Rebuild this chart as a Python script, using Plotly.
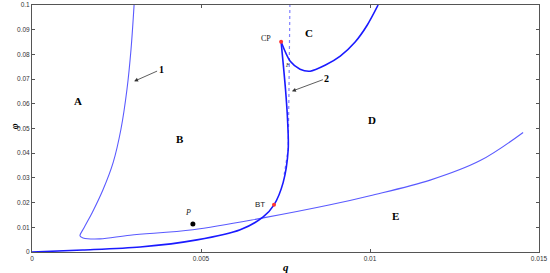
import plotly.graph_objects as go

# curve 1 (thin blue)
c1_q = [0.00302, 0.00293, 0.00281, 0.00263, 0.00240, 0.00210, 0.00178, 0.00154,
        0.00142, 0.00151, 0.00201, 0.00290, 0.00476, 0.00684, 0.00882, 0.01000,
        0.01178, 0.01326, 0.01453]
c1_v = [0.1000, 0.0821, 0.0659, 0.0496, 0.0362, 0.0252, 0.0159, 0.0098,
        0.0065, 0.0057, 0.0053, 0.0068, 0.0090, 0.0138, 0.0191, 0.0228,
        0.0291, 0.0370, 0.0484]

# curve 2, lower branch: origin -> BT -> CP
c2a_q = [0.0, 0.00150, 0.00320, 0.00488, 0.00616, 0.00684, 0.00716, 0.00743, 0.00758,
         0.00756, 0.00750, 0.00737]
c2a_v = [0.0, 0.0008, 0.0020, 0.0049, 0.0090, 0.0142, 0.0191, 0.0281, 0.0415,
         0.0537, 0.0659, 0.0851]
# curve 2, upper branch: CP -> top
c2b_q = [0.00737, 0.00764, 0.00793, 0.00823, 0.00867, 0.00912, 0.00956, 0.00992, 0.01024]
c2b_v = [0.0851, 0.0772, 0.0740, 0.0732, 0.0756, 0.0793, 0.0850, 0.0919, 0.1000]

# dashed near-vertical branch
c3_q = [0.00746, 0.00758, 0.00760, 0.00763]
c3_v = [0.0313, 0.0415, 0.0619, 0.1000]

special_q = [0.00716, 0.00737]
special_v = [0.0191, 0.0851]

p_q, p_v = 0.00476, 0.01138

regions = ["A", "B", "C", "D", "E"]
region_q = [0.00136, 0.00438, 0.00820, 0.01006, 0.01074]
region_v = [0.0612, 0.0458, 0.0886, 0.0536, 0.0146]

fig = go.Figure()
fig.add_trace(go.Scatter(x=c1_q, y=c1_v, mode="lines", line=dict(color="#5a5aff", width=1.1, shape="spline")))
fig.add_trace(go.Scatter(x=c3_q, y=c3_v, mode="lines", line=dict(color="#8080ff", width=1.2, dash="dot")))
fig.add_trace(go.Scatter(x=c2a_q, y=c2a_v, mode="lines", line=dict(color="#1a1aff", width=1.6, shape="spline", smoothing=0.8)))
fig.add_trace(go.Scatter(x=c2b_q, y=c2b_v, mode="lines", line=dict(color="#1a1aff", width=1.6, shape="spline", smoothing=0.8)))
fig.add_trace(go.Scatter(x=special_q, y=special_v, mode="markers", marker=dict(color="#ff3333", size=4)))
fig.add_trace(go.Scatter(x=[p_q], y=[p_v], mode="markers", marker=dict(color="black", size=5)))

ann = []
for t, x, y in zip(regions, region_q, region_v):
    ann.append(dict(x=x, y=y, text="<b>" + t + "</b>", showarrow=False,
                    font=dict(family="Liberation Serif", size=11, color="black")))
ann.append(dict(x=special_q[0], y=special_v[0], text="BT", showarrow=False, xshift=-14,
                font=dict(family="Liberation Sans", size=8, color="#222")))
ann.append(dict(x=special_q[1], y=special_v[1], text="CP", showarrow=False, xshift=-15, yshift=3,
                font=dict(family="Liberation Serif", size=8, color="#222")))
ann.append(dict(x=0.00763, y=0.0765, text="<i>F</i>", showarrow=False, xshift=-2, yshift=-2,
                font=dict(family="Liberation Serif", size=6, color="#222")))
ann.append(dict(x=p_q, y=p_v, text="<i>P</i>", showarrow=False, xshift=-5, yshift=11,
                font=dict(family="Liberation Serif", size=8, color="#222")))
ann.append(dict(x=0.00302, y=0.0691, text="<b>1</b>", showarrow=True, ax=27, ay=-12,
                arrowhead=2, arrowsize=1, arrowwidth=0.8, arrowcolor="#333",
                font=dict(family="Liberation Serif", size=10, color="black")))
ann.append(dict(x=0.00769, y=0.0651, text="<b>2</b>", showarrow=True, ax=35, ay=-13,
                arrowhead=2, arrowsize=1, arrowwidth=0.8, arrowcolor="#333",
                font=dict(family="Liberation Serif", size=10, color="black")))
ann.append(dict(x=0.5, y=-0.06, xref="paper", yref="paper", yanchor="middle",
                text="<b><i>q</i></b>", showarrow=False,
                font=dict(family="Liberation Serif", size=11, color="black")))
ann.append(dict(x=-0.05, y=0.51, xref="paper", yref="paper", textangle=-90,
                text="<b><i>φ</i></b>", showarrow=False,
                font=dict(family="Liberation Serif", size=10, color="black")))

fig.update_layout(
    width=550, height=273,
    margin=dict(l=32, r=11, t=5, b=21),
    plot_bgcolor="white", paper_bgcolor="white",
    showlegend=False,
    annotations=ann,
    font=dict(family="Liberation Sans", size=6.5, color="#333"),
)
fig.update_xaxes(range=[0, 0.015], dtick=0.005, showgrid=False, zeroline=False,
                 showline=True, linecolor="#555", linewidth=1, mirror="ticks",
                 ticks="inside", ticklen=3, tickcolor="#555", automargin=False)
fig.update_yaxes(range=[0, 0.1], dtick=0.01, showgrid=False, zeroline=False,
                 showline=True, linecolor="#555", linewidth=1, mirror="ticks",
                 ticks="inside", ticklen=3, tickcolor="#555", automargin=False)

fig.write_html("out.html", config={"displayModeBar": False},
               post_script="document.body.style.margin='0';")
